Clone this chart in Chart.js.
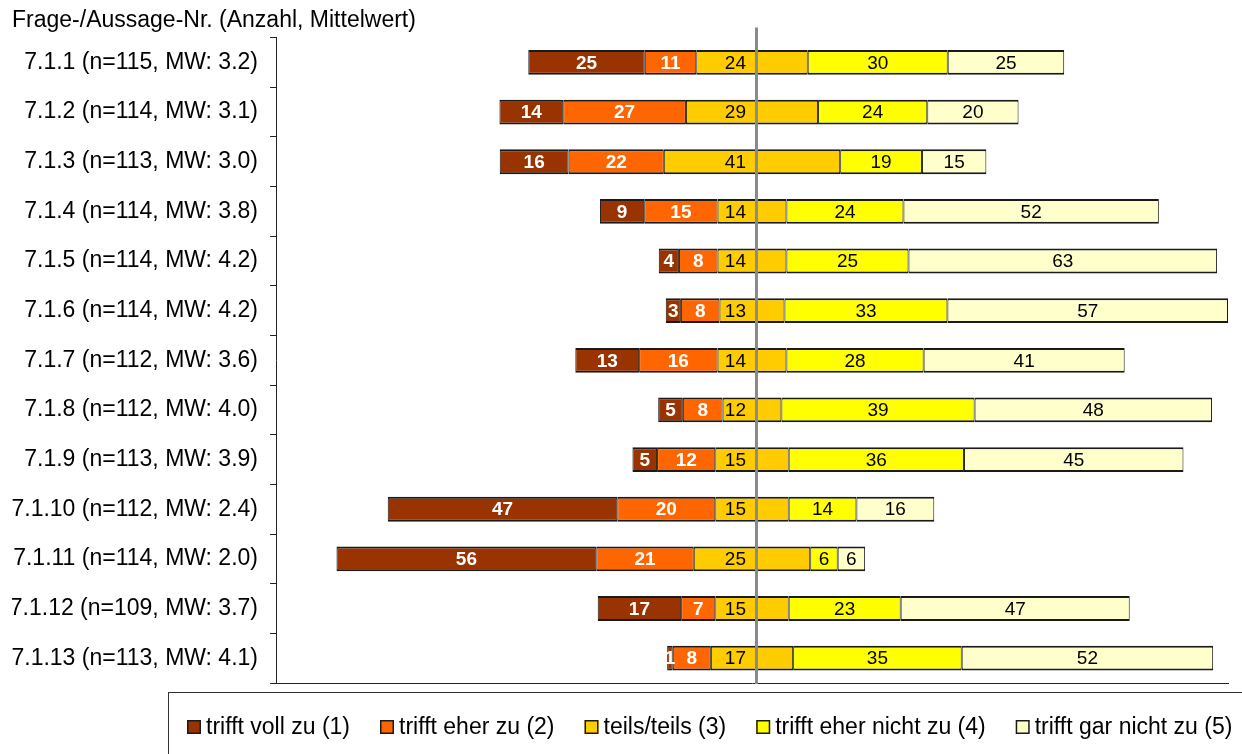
<!DOCTYPE html>
<html>
<head>
<meta charset="utf-8">
<script src="https://cdn.jsdelivr.net/npm/chart.js@4.4.1/dist/chart.umd.min.js"></script>
<style>
html, body { margin: 0; padding: 0; background: #ffffff; }
#c { display: block; }
</style>
</head>
<body>
<canvas id="c" width="1242" height="754"></canvas>
<script>
// ---- data ----
const chartTitle = 'Frage-/Aussage-Nr. (Anzahl, Mittelwert)';
const categories = [
  '7.1.1 (n=115, MW: 3.2)', '7.1.2 (n=114, MW: 3.1)', '7.1.3 (n=113, MW: 3.0)',
  '7.1.4 (n=114, MW: 3.8)', '7.1.5 (n=114, MW: 4.2)', '7.1.6 (n=114, MW: 4.2)',
  '7.1.7 (n=112, MW: 3.6)', '7.1.8 (n=112, MW: 4.0)', '7.1.9 (n=113, MW: 3.9)',
  '7.1.10 (n=112, MW: 2.4)', '7.1.11 (n=114, MW: 2.0)', '7.1.12 (n=109, MW: 3.7)',
  '7.1.13 (n=113, MW: 4.1)'
];
const seriesNames = ['trifft voll zu (1)', 'trifft eher zu (2)', 'teils/teils (3)', 'trifft eher nicht zu (4)', 'trifft gar nicht zu (5)'];

// bar lengths in percent (as drawn)
const pctVoll      = [20.8, 11.4, 12.3,  7.9,  3.6,  2.7, 11.4,  4.4,  4.4, 41.0, 46.4, 14.9,  1.0];
const pctEher      = [ 9.2, 21.9, 17.0, 13.1,  6.9,  6.9, 14.0,  7.1, 10.4, 17.5, 17.4,  6.1,  6.8];
const pctTeils     = [19.9, 23.6, 31.5, 12.3, 12.3, 11.6, 12.3, 10.5, 13.1, 13.1, 20.8, 13.1, 14.7];
const pctEherNicht = [25.0, 19.5, 14.6, 20.9, 21.8, 29.1, 24.5, 34.5, 31.3, 12.1,  4.9, 20.0, 30.1];
const pctGarNicht  = [20.8, 16.3, 11.5, 45.6, 55.1, 50.1, 35.9, 42.4, 39.2, 13.9,  4.9, 40.9, 44.9];

// counts shown as data labels
const nVoll      = [25, 14, 16,  9,  4,  3, 13,  5,  5, 47, 56, 17,  1];
const nEher      = [11, 27, 22, 15,  8,  8, 16,  8, 12, 20, 21,  7,  8];
const nTeils     = [24, 29, 41, 14, 14, 13, 14, 12, 15, 15, 25, 15, 17];
const nEherNicht = [30, 24, 19, 24, 25, 33, 28, 39, 36, 14,  6, 23, 35];
const nGarNicht  = [25, 20, 15, 52, 63, 57, 41, 48, 45, 16,  6, 47, 52];

const refLineAt = 0.8; // grey reference line near the scale midpoint

// ---- styles ----
const FONT = '"Liberation Sans", Arial, Helvetica, sans-serif';
const colors = ['#993300', '#FF6600', '#FFCC00', '#FFFF00', '#FFFFCC'];
const lengths = [pctVoll, pctEher, pctTeils, pctEherNicht, pctGarNicht];
const counts = [nVoll, nEher, nTeils, nEherNicht, nGarNicht];

const starts = categories.map((_, i) => -(pctVoll[i] + pctEher[i] + pctTeils[i] / 2));
const datasets = lengths.map((arr, k) => ({
  label: seriesNames[k],
  data: arr.map((v, i) => {
    let s = starts[i];
    for (let j = 0; j < k; j++) s += lengths[j][i];
    return [s, s + v];
  }),
  backgroundColor: colors[k],
  borderColor: '#1a1a1a',
  borderWidth: { top: 2, bottom: 2, left: 1, right: 1 },
  borderSkipped: false,
  grouped: false,
  barPercentage: 0.5,
  categoryPercentage: 1.0
}));

const labelPlugin = {
  id: 'segLabels',
  afterDatasetsDraw(chart) {
    const ctx = chart.ctx;
    const xs = chart.scales.x;
    chart.data.datasets.forEach((ds, k) => {
      const meta = chart.getDatasetMeta(k);
      meta.data.forEach((el, i) => {
        const txt = String(counts[k][i]);
        ctx.save();
        ctx.font = (k < 2 ? 'bold ' : '') + '19px ' + FONT;
        ctx.fillStyle = k < 2 ? '#ffffff' : '#000000';
        ctx.textBaseline = 'middle';
        if (k === 2) {
          ctx.textAlign = 'right';
          ctx.fillText(txt, xs.getPixelForValue(0) - 6, el.y + 1);
        } else {
          ctx.textAlign = 'center';
          ctx.fillText(txt, (el.x + el.base) / 2, el.y + 1);
        }
        ctx.restore();
      });
    });
    // grey reference line
    const ca = chart.chartArea;
    const lx = xs.getPixelForValue(refLineAt);
    ctx.save();
    ctx.strokeStyle = '#8a8a8a';
    ctx.lineWidth = 3;
    ctx.beginPath();
    ctx.moveTo(lx, ca.top - 10);
    ctx.lineTo(lx, ca.bottom + 1);
    ctx.stroke();
    ctx.restore();
  }
};

const legendPlugin = {
  id: 'legendBox',
  afterDraw(chart) {
    const ctx = chart.ctx;
    const W = chart.width;
    ctx.save();
    // frame
    ctx.strokeStyle = '#333333';
    ctx.lineWidth = 1;
    ctx.strokeRect(168.5, 692.5, W + 20, 100);
    ctx.font = '23px ' + FONT;
    ctx.textBaseline = 'alphabetic';
    ctx.textAlign = 'left';
    const box = 14, gapBT = 5, gapItems = 30;
    const widths = chart.data.datasets.map(d => ctx.measureText(d.label).width);
    let total = 0;
    widths.forEach((w, i) => { total += box + gapBT + w + (i > 0 ? gapItems : 0); });
    let x = Math.round(W - 10 - total);
    const yMid = 727;
    chart.data.datasets.forEach((d, i) => {
      ctx.fillStyle = d.backgroundColor;
      ctx.fillRect(x, yMid - 7, box, box);
      ctx.strokeStyle = '#1a1a1a';
      ctx.lineWidth = 1.5;
      ctx.strokeRect(x + 0.75, yMid - 7 + 0.75, box - 1.5, box - 1.5);
      ctx.fillStyle = '#000000';
      ctx.fillText(d.label, x + box + gapBT, yMid + 6.5);
      x += box + gapBT + widths[i] + gapItems;
    });
    ctx.restore();
  }
};

new Chart(document.getElementById('c'), {
  type: 'bar',
  data: { labels: categories, datasets: datasets },
  options: {
    indexAxis: 'y',
    responsive: false,
    animation: false,
    devicePixelRatio: 1,
    layout: { padding: { left: 12, right: 14, top: 0, bottom: 71 } },
    plugins: {
      legend: { display: false },
      tooltip: { enabled: false },
      title: {
        display: true,
        text: chartTitle,
        align: 'start',
        color: '#000000',
        font: { family: FONT, size: 23, weight: 'normal', lineHeight: 1.2 },
        padding: { top: 7, bottom: 3 }
      }
    },
    scales: {
      x: {
        min: -85, max: 85,
        grid: { display: false, drawTicks: false },
        ticks: { display: false },
        border: { display: true, color: '#222222', width: 1 }
      },
      y: {
        offset: true,
        grid: { display: true, drawOnChartArea: false, drawTicks: true, tickLength: 6, color: '#222222', lineWidth: 1, offset: true },
        border: { display: true, color: '#222222', width: 1 },
        ticks: { color: '#000000', font: { family: FONT, size: 23 }, padding: 12, autoSkip: false },
        afterFit(s) { s.width = 264; }
      }
    }
  },
  plugins: [labelPlugin, legendPlugin]
});
</script>
</body>
</html>
